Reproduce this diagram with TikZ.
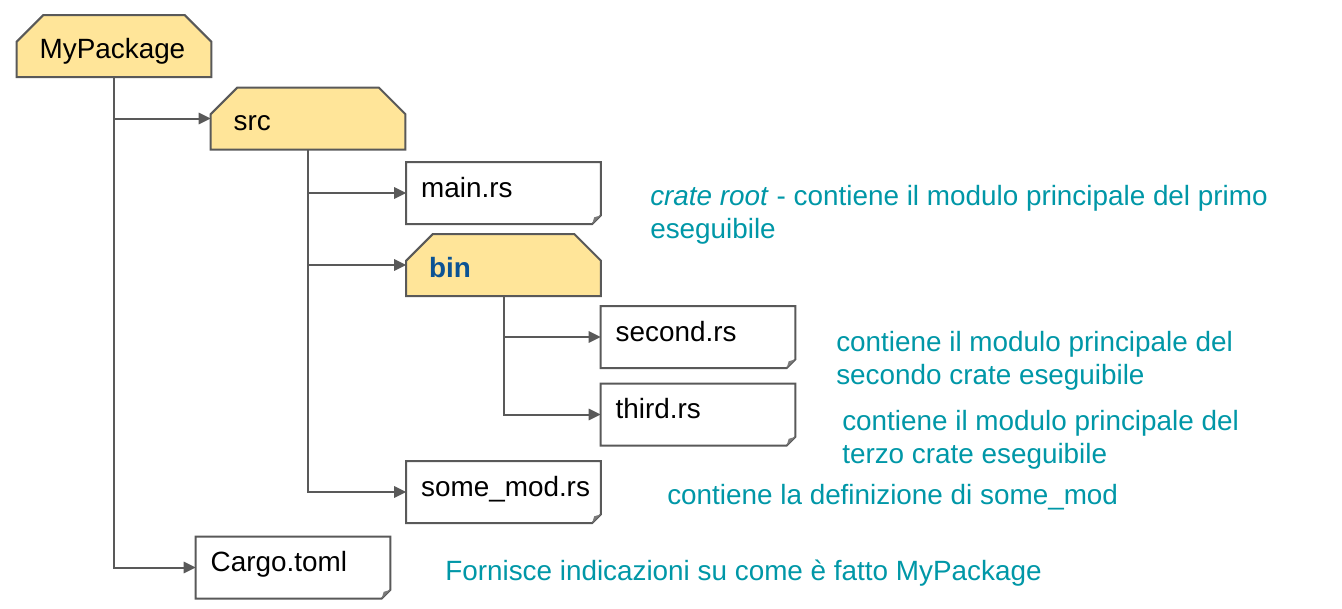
\documentclass[tikz,border=0pt]{standalone}
\usepackage{fontspec}
\setmainfont{Liberation Sans}
\usetikzlibrary{arrows.meta,calc,positioning,shapes.misc}

\definecolor{edge}{HTML}{595959}
\definecolor{folderfill}{HTML}{FFE599}
\definecolor{notecol}{HTML}{0097A7}
\definecolor{bincol}{HTML}{0B5394}

\tikzset{
  box/.style={minimum height=46.5pt,inner ysep=0pt,outer sep=0pt,align=left,
    font=\fontsize{20.9pt}{24.75pt}\selectfont},
  folder/.style={box,draw=edge,line width=1.5pt,fill=folderfill,
    chamfered rectangle,chamfered rectangle angle=45,
    chamfered rectangle corners={north west,north east},
    chamfered rectangle xsep=10pt,chamfered rectangle ysep=10pt,
    text width=111.5pt,inner xsep=7.25pt,text height=22pt,text depth=4pt},
  file/.style={box,rectangle,minimum width=146pt,
    text width=123.5pt,inner xsep=11.25pt,text height=10pt,text depth=4pt},
  fileline/.style={draw=edge,line width=1.5pt,line join=miter},
  fold/.style={fill=edge!80},
  conn/.style={draw=edge,line width=1.5pt,-{Triangle[length=9pt,width=8.5pt]}},
  note/.style={anchor=base west,inner sep=0pt,align=left,text=notecol,
    font=\fontsize{20.9pt}{24.75pt}\selectfont}
}

\begin{document}
\begin{tikzpicture}[x=0.75pt,y=-0.75pt]
  \useasboundingbox (0,0) rectangle (1342,608);

  % folders and files
  \node[folder] (pkg) at (114,46) {MyPackage};
  \node[folder] (src) at (308,118.5) {src};
  \node[file] (mainrs) at (503.5,193) {main.rs};
  \node[folder] (bin) at (503.5,265) {\textcolor{bincol}{\bfseries bin}};
  \node[file] (second) at (698,337) {second.rs};
  \node[file] (third) at (698,414.5) {third.rs};
  \node[file] (somemod) at (503.5,492) {some\_mod.rs};
  \node[file] (cargo) at (293,567.5) {Cargo.toml};

  % file outlines with folded corner
  \foreach \f in {mainrs,second,third,somemod,cargo}{
    \draw[fileline] (\f.north west) -- (\f.north east) -- ([yshift=6.5pt]\f.south east)
      -- ([xshift=-6.5pt]\f.south east) -- (\f.south west) -- cycle;
    \fill[fold] ([yshift=6.5pt]\f.south east) -- ([xshift=-5pt,yshift=5pt]\f.south east)
      -- ([xshift=-6.5pt]\f.south east) -- cycle;
  }

  % tree lines
  \draw[conn] (pkg.south) |- (cargo.west);
  \draw[conn] (pkg.south |- src.west) -- (src.west);
  \draw[conn] (src.south) |- (somemod.west);
  \draw[conn] (src.south |- mainrs.west) -- (mainrs.west);
  \draw[conn] (src.south |- bin.west) -- (bin.west);
  \draw[conn] (bin.south) |- (third.west);
  \draw[conn] (bin.south |- second.west) -- (second.west);

  % notes
  \node[note] (notemain) at (650,238) {\textit{crate root} - contiene il modulo principale del primo\\eseguibile};
  \node[note] (notesecond) at (836,384) {contiene il modulo principale del\\secondo crate eseguibile};
  \node[note] (notethird) at (842,463) {contiene il modulo principale del\\terzo crate eseguibile};
  \node[note] (notemod) at (667,504) {contiene la definizione di some\_mod};
  \node[note] (notecargo) at (445,580) {Fornisce indicazioni su come è fatto MyPackage};
\end{tikzpicture}
\end{document}
